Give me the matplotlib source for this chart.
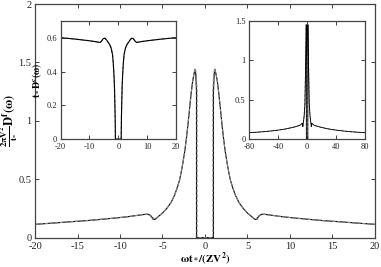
import matplotlib
matplotlib.use("Agg")
import matplotlib.pyplot as plt
import numpy as np

plt.rcParams['font.family'] = ['Liberation Serif', 'DejaVu Serif']
plt.rcParams['mathtext.fontset'] = 'stix'

# main curve, positive branch (mirror symmetric)
x_main = [1.0, 1.0, 1.08, 1.18, 1.3, 1.45, 1.62, 1.82, 2.0, 2.2, 2.4, 2.6, 2.8, 3.0,
          3.3, 3.6, 4.0, 4.5, 5.0, 5.5, 5.8, 6.0, 6.2, 6.4, 6.7, 7.0, 8.0, 9.0, 10.0,
          12.0, 14.0, 16.0, 18.0, 20.0]
y_main = [0.0, 1.25, 1.40, 1.44, 1.40, 1.34, 1.24, 1.10, 0.97, 0.84, 0.73, 0.64, 0.56, 0.49,
          0.42, 0.36, 0.30, 0.25, 0.21, 0.18, 0.16, 0.155, 0.17, 0.19, 0.20, 0.20, 0.19, 0.18, 0.172,
          0.158, 0.145, 0.135, 0.124, 0.114]
# dashed companion curve
x_main2 = [0.93, 0.93, 1.02, 1.14, 1.3, 1.45, 1.62, 1.82, 2.0, 2.2, 2.4, 2.6, 2.8, 3.0,
           3.3, 3.6, 4.0, 4.5, 5.0, 5.5, 5.8, 6.0, 6.2, 6.4, 6.7, 7.0, 8.0, 9.0, 10.0,
           12.0, 14.0, 16.0, 18.0, 20.0]
y_main2 = [0.0, 1.25, 1.40, 1.45, 1.40, 1.34, 1.24, 1.10, 0.97, 0.84, 0.73, 0.64, 0.56, 0.49,
           0.42, 0.36, 0.30, 0.25, 0.21, 0.18, 0.165, 0.17, 0.155, 0.185, 0.20, 0.20, 0.19, 0.18, 0.172,
           0.158, 0.145, 0.135, 0.124, 0.114]

# inset 1: t* D^c(w)
x_c = [1.0, 1.05, 1.1, 1.2, 1.35, 1.5, 1.75, 2.0, 2.5, 3.0, 3.5, 4.0, 4.6, 5.2, 5.8,
       6.3, 7.0, 8.0, 10.0, 12.0, 15.0, 18.0, 20.0]
y_c = [0.0, 0.08, 0.14, 0.22, 0.32, 0.38, 0.45, 0.50, 0.54, 0.56, 0.572, 0.585, 0.597, 0.595,
       0.58, 0.572, 0.574, 0.577, 0.582, 0.586, 0.592, 0.597, 0.6]

# inset 2: wide range
x_w = [1.0, 1.0, 1.15, 1.5, 2.0, 3.0, 4.0, 5.0, 5.9, 6.4, 8.0, 10.0, 15.0, 20.0, 30.0,
       40.0, 50.0, 60.0, 70.0, 80.0]
y_w = [0.0, 1.3, 1.45, 1.25, 0.95, 0.45, 0.30, 0.22, 0.16, 0.2, 0.19, 0.175, 0.16, 0.148,
       0.128, 0.114, 0.103, 0.094, 0.087, 0.082]


def mirror(xp, yp):
    xp = np.asarray(xp)
    yp = np.asarray(yp)
    return np.concatenate([-xp[::-1], xp]), np.concatenate([yp[::-1], yp])


def style(ax, size, xpad=2.5):
    ax.tick_params(direction='in', top=True, right=True, labelsize=size,
                   length=3, width=0.6, colors='#222222')
    ax.tick_params(axis='x', pad=xpad)
    ax.tick_params(axis='y', pad=2.5)
    for s in ax.spines.values():
        s.set_linewidth(0.9)
        s.set_color('#444444')


fig = plt.figure(figsize=(3.81, 2.67), dpi=100)
ax = fig.add_axes([0.092, 0.11, 0.892, 0.875])

xs, ys = mirror(x_main, y_main)
xd, yd = mirror(x_main2, y_main2)
ax.plot(xs, ys, color='black', lw=0.8)
ax.plot(xd, yd, color='#888888', lw=0.8, ls=(0, (3, 1.5)))
ax.set_xlim(-20, 20)
ax.set_ylim(0, 2)
ax.set_xticks([-20, -15, -10, -5, 0, 5, 10, 15, 20])
ax.set_xticklabels(['-20', '-15', '-10', '-5', '0', '5', '10', '15', '20'])
ax.set_yticks([0, 0.5, 1, 1.5, 2])
ax.set_yticklabels(['0', '0.5', '1', '1.5', '2'])
style(ax, 7.5, xpad=3.0)
ax.set_xlabel(r'$\mathbf{\omega t_*/(ZV^2)}$', fontsize=8, labelpad=0)
ax.set_ylabel(r'$\mathbf{\frac{2\pi V^2}{t_*}D^f(\omega)}$', fontsize=9, labelpad=0)

# inset 1
a1 = fig.add_axes([0.159, 0.479, 0.303, 0.443])
xs, ys = mirror(x_c, y_c)
a1.plot(xs, ys, color='#888888', lw=0.8, ls=(0, (3, 1.5)))
a1.plot(xs, ys, color='black', lw=0.8)
a1.set_xlim(-20, 20)
a1.set_ylim(0, 0.7)
a1.set_xticks([-20, -10, 0, 10, 20])
a1.set_xticklabels(['-20', '-10', '0', '10', '20'])
a1.set_yticks([0, 0.2, 0.4, 0.6])
a1.set_yticklabels(['0', '0.2', '0.4', '0.6'])
style(a1, 6)
a1.set_ylabel(r'$\mathbf{t_*D^c(\omega)}$', fontsize=7, labelpad=1.5)

# inset 2
a2 = fig.add_axes([0.654, 0.479, 0.304, 0.443])
xs, ys = mirror(x_w, y_w)
a2.plot(xs, ys, color='#888888', lw=0.7, ls=(0, (3, 1.5)))
a2.plot(xs, ys, color='black', lw=0.6)
a2.set_xlim(-80, 80)
a2.set_ylim(0, 1.5)
a2.set_xticks([-80, -40, 0, 40, 80])
a2.set_xticklabels(['-80', '-40', '0', '40', '80'])
a2.set_yticks([0, 0.5, 1, 1.5])
a2.set_yticklabels(['0', '0.5', '1', '1.5'])
style(a2, 6)

fig.savefig('out.png', dpi=100)
